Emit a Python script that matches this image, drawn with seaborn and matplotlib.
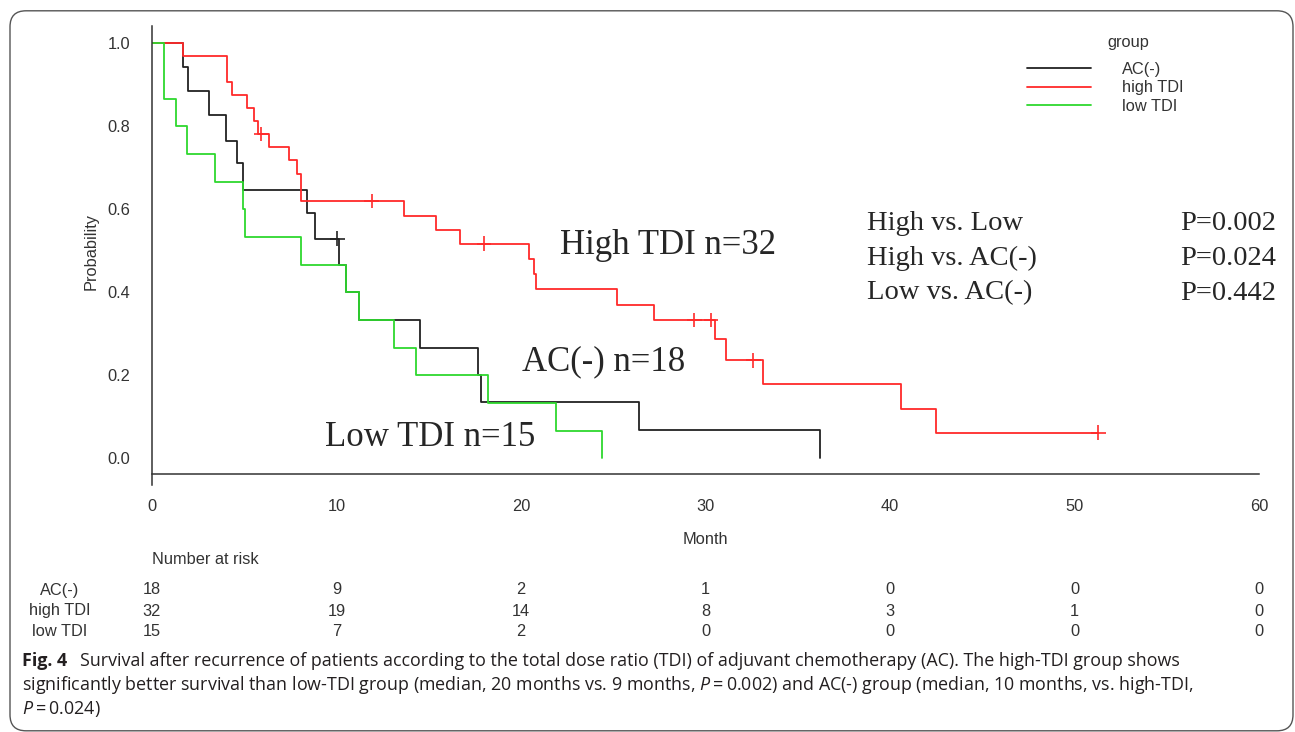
import pandas as pd
import seaborn as sns
import matplotlib.pyplot as plt
import matplotlib.transforms as mtransforms
from matplotlib.patches import FancyBboxPatch

# Kaplan-Meier steps (month, survival)
groups = ["AC(-)", "high TDI", "low TDI"]
colors = {"AC(-)": "#222222", "high TDI": "#ff2a2a", "low TDI": "#2ed82e"}

ac_month = [0, 1.7, 1.93, 3.1, 4.0, 4.6, 4.95, 8.4, 8.83, 10.13, 10.5, 11.2, 14.5, 17.65, 17.85, 26.4, 36.2]
ac_surv = [1.0, 0.944, 0.884, 0.827, 0.765, 0.712, 0.647, 0.59, 0.529, 0.466, 0.4, 0.333, 0.265, 0.2, 0.136, 0.068, 0.0]

high_month = [0, 1.7, 4.08, 4.35, 5.13, 5.55, 5.77, 6.36, 7.42, 7.84, 8.1, 13.65, 15.37, 16.7, 20.45, 20.7, 20.8,
              25.2, 27.2, 30.5, 31.1, 33.1, 40.6, 42.5, 51.3]
high_surv = [1.0, 0.969, 0.906, 0.875, 0.844, 0.8125, 0.781, 0.749, 0.719, 0.686, 0.62, 0.585, 0.55, 0.517, 0.48,
             0.443, 0.407, 0.369, 0.333, 0.287, 0.236, 0.18, 0.12, 0.062, 0.062]

low_month = [0, 0.65, 1.3, 1.88, 3.41, 4.95, 5.05, 8.07, 10.5, 11.2, 13.1, 14.3, 18.2, 21.9, 24.4]
low_surv = [1.0, 0.867, 0.8, 0.733, 0.667, 0.6, 0.533, 0.467, 0.4, 0.333, 0.267, 0.2, 0.133, 0.067, 0.0]

# censored observations
ac_cens_month = [10.05]
ac_cens_surv = [0.529]
high_cens_month = [5.93, 11.9, 18.0, 29.4, 30.3, 32.6, 51.3]
high_cens_surv = [0.781, 0.62, 0.517, 0.333, 0.333, 0.236, 0.062]

# number at risk table
risk_months = [0, 10, 20, 30, 40, 50, 60]
risk_ac = [18, 9, 2, 1, 0, 0, 0]
risk_high = [32, 19, 14, 8, 3, 1, 0]
risk_low = [15, 7, 2, 0, 0, 0, 0]

stats_labels = ["High vs. Low", "High vs. AC(-)", "Low vs. AC(-)"]
stats_p = ["P=0.002", "P=0.024", "P=0.442"]

curves = pd.concat([
    pd.DataFrame({"month": ac_month, "surv": ac_surv, "group": "AC(-)"}),
    pd.DataFrame({"month": high_month, "surv": high_surv, "group": "high TDI"}),
    pd.DataFrame({"month": low_month, "surv": low_surv, "group": "low TDI"}),
])
cens = pd.concat([
    pd.DataFrame({"month": ac_cens_month, "surv": ac_cens_surv, "group": "AC(-)"}),
    pd.DataFrame({"month": high_cens_month, "surv": high_cens_surv, "group": "high TDI"}),
])

sns.set_style("white")
plt.rcParams["font.family"] = ["Liberation Sans", "DejaVu Sans"]

W, H = 1295, 732
def fx(x):
    return x / W
def fy(y):
    return 1 - y / H

fig = plt.figure(figsize=(W / 100, H / 100), dpi=100)
ax = fig.add_axes([fx(152), fy(485), (1259 - 152) / W, (485 - 26) / H])

sns.lineplot(data=curves, x="month", y="surv", hue="group", hue_order=groups, palette=colors,
             drawstyle="steps-post", estimator=None, sort=False, linewidth=1.3, ax=ax)
sns.scatterplot(data=cens, x="month", y="surv", hue="group", hue_order=groups, palette=colors,
                marker="+", s=110, linewidth=1.2, legend=False, ax=ax, zorder=3)

ax.set_xlim(0, 60)
ax.set_ylim(-0.0643, 1.0417)
ax.set_xticks(range(0, 61, 10))
ax.set_yticks([0, 0.2, 0.4, 0.6, 0.8, 1.0])
ax.set_yticklabels(["0.0", "0.2", "0.4", "0.6", "0.8", "1.0"])
ax.set_xlabel("")
ax.set_ylabel("")
for s in ["top", "right"]:
    ax.spines[s].set_visible(False)
ax.spines["bottom"].set_position(("data", -0.0378))
ax.spines["bottom"].set_bounds(0, 60)
for s in ["left", "bottom"]:
    ax.spines[s].set_color("#333333")
    ax.spines[s].set_linewidth(1.1)
ax.tick_params(axis="both", direction="out", length=8.2, width=1.1, color="#333333",
               labelsize=11.8, labelcolor="#333333")
ax.tick_params(axis="x", pad=10)
ax.tick_params(axis="y", pad=7.5)

fig.text(fx(705), fy(539), "Month", ha="center", va="center", fontsize=11.8, color="#333333")
fig.text(fx(91), fy(251), "Probability", ha="center", va="center", rotation=90, fontsize=11.8,
         color="#333333")

# legend
handles, labels = ax.get_legend_handles_labels()
ax.legend(handles, labels, loc="upper left", bbox_to_anchor=(fx(1019), fy(54)),
          bbox_transform=fig.transFigure, frameon=False, borderpad=0, fontsize=11.8,
          handlelength=3.9, handletextpad=1.9, labelspacing=0.2, labelcolor="#333333")
fig.text(fx(1128), fy(43), "group", ha="center", va="center", fontsize=11.8, color="#333333")

# annotations inside the plot
serif = "Liberation Serif"
ax.text(22.1, 0.514, "High TDI n=32", family=serif, fontsize=25, va="center", ha="left")
ax.text(20.05, 0.232, "AC(-) n=18", family=serif, fontsize=25, va="center", ha="left")
ax.text(9.38, 0.051, "Low TDI n=15", family=serif, fontsize=25, va="center", ha="left")
for i, (lab, p) in enumerate(zip(stats_labels, stats_p)):
    yy = 223 + 35 * i
    fig.text(fx(867), fy(yy), lab, family=serif, fontsize=20.5, va="center", ha="left")
    fig.text(fx(1276), fy(yy), p, family=serif, fontsize=20.5, va="center", ha="right")

# number at risk
trans = mtransforms.blended_transform_factory(ax.transData, fig.transFigure)
fig.text(fx(152), fy(559), "Number at risk", ha="left", va="center", fontsize=11.8, color="#333333")
for row_y, name, vals in zip([590, 611, 631], groups, [risk_ac, risk_high, risk_low]):
    fig.text(fx(60), fy(row_y), name, ha="center", va="center", fontsize=11.8, color="#333333")
    for m, v in zip(risk_months, vals):
        ax.text(m, fy(row_y), str(v), transform=trans, ha="center", va="center", fontsize=11.8,
                color="#333333", clip_on=False)

# caption
plt.rcParams["mathtext.fontset"] = "custom"
plt.rcParams["mathtext.it"] = "Open Sans:italic"
plt.rcParams["mathtext.rm"] = "Open Sans"
cap = "Open Sans"
cap_size = 12.9
fig.text(fx(22), fy(661), "Fig. 4", family=cap, fontweight="bold", fontsize=cap_size, va="center",
         color="#231f20")
fig.text(fx(80), fy(661), "Survival after recurrence of patients according to the total dose ratio (TDI) of "
         "adjuvant chemotherapy (AC). The high-TDI group shows", family=cap, fontsize=cap_size,
         va="center", color="#231f20")
fig.text(fx(22), fy(685), "significantly better survival than low-TDI group (median, 20 months vs. 9 months, "
         "$P=$0.002) and AC(-) group (median, 10 months, vs. high-TDI,", family=cap, fontsize=cap_size,
         va="center", color="#231f20")
fig.text(fx(22), fy(709), "$P=$0.024)", family=cap, fontsize=cap_size, va="center", color="#231f20")

# rounded frame around the figure
frame = FancyBboxPatch((0.10, 0.012), 12.83, 7.20, boxstyle="round,pad=0,rounding_size=0.16",
                       transform=fig.dpi_scale_trans, fill=False, edgecolor="#555555", linewidth=1.0)
fig.patches.append(frame)

fig.savefig("out.png", dpi=100)
